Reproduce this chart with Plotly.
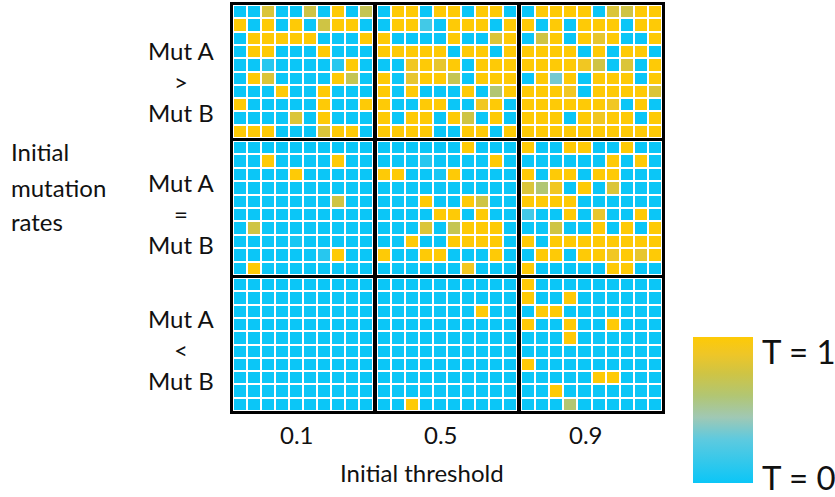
import plotly.graph_objects as go

# ---- data: 10x10 grids of final T values (row 0 = top row) ----
thresholds = ["0.1", "0.5", "0.9"]
rate_labels = ["Mut A<br>&gt;<br>Mut B", "Mut A<br>=<br>Mut B", "Mut A<br>&lt;<br>Mut B"]

gt_01 = [
    [0, 0, 0.8, 0, 0, 0.75, 0, 1, 0, 0.7],
    [1, 0, 1, 0, 1, 0, 0.75, 1, 1, 0],
    [0, 1, 1, 1, 1, 1, 0, 0, 0, 1],
    [0, 1, 1, 0, 0, 0, 1, 0, 0, 0],
    [0, 0, 0.1, 0, 0, 0, 0, 0.1, 1, 0],
    [0, 1, 0.8, 0, 0, 0, 0, 1, 0.7, 0],
    [0, 0, 0, 1, 0, 0, 1, 0, 0, 0],
    [1, 0, 0, 0, 0, 0, 1, 0, 0, 1],
    [0, 0, 0, 0, 0.8, 0, 1, 0, 0, 0],
    [1, 1, 1, 0, 0, 0, 0.8, 1, 1, 0],
]
gt_05 = [
    [0, 1, 1, 0, 1, 1, 0, 1, 1, 0],
    [0, 1, 1, 0.2, 0, 1, 1, 1, 0, 1],
    [1, 0, 0, 0, 0, 1, 0, 0, 0.8, 1],
    [1, 1, 1, 1, 1, 0, 1, 1, 0, 1],
    [0, 0, 0.9, 1, 0.85, 1, 0, 1, 1, 1],
    [1, 0, 0.85, 1, 1, 0.7, 0, 1, 1, 1],
    [1, 0, 1, 0, 0, 0, 1, 0, 0.6, 1],
    [1, 0, 0, 1, 1, 0, 0, 0.9, 1, 0],
    [1, 0, 1, 1, 0, 1, 0.75, 0, 1, 0],
    [1, 1, 1, 1, 0, 0, 1, 1, 0, 1],
]
gt_09 = [
    [0, 1, 1, 1, 1, 0, 0.8, 0.75, 1, 1],
    [1, 0, 1, 0, 1, 1, 1, 0, 1, 1],
    [0, 0.75, 1, 0, 1, 0.85, 1, 0, 0, 1],
    [1, 1, 1, 1, 0, 1, 0, 1, 1, 0],
    [1, 1, 1, 1, 0.9, 0.75, 0, 0.8, 0, 1],
    [0, 1, 0.35, 1, 0, 1, 1, 1, 0, 1],
    [1, 1, 1, 0.9, 0, 1, 1, 1, 1, 0.8],
    [1, 1, 1, 1, 1, 1, 0.9, 0, 1, 0],
    [1, 1, 1, 0, 1, 0.9, 1, 1, 0, 1],
    [1, 1, 1, 1, 1, 1, 1, 1, 1, 1],
]
eq_01 = [
    [0, 0, 0, 0, 0, 0, 0, 0, 0, 0],
    [0, 0, 1, 0, 0, 0, 0, 1, 0, 0],
    [0, 0, 0, 0, 1, 0, 0, 0, 0, 0],
    [0, 0, 0, 0, 0, 0, 0, 0, 0, 0],
    [0, 0, 0, 0, 0, 0, 0, 0.75, 0, 0],
    [0, 0, 0, 0, 0, 0, 0, 0, 0, 0],
    [0, 0.75, 0, 0, 0, 0, 0, 0, 0, 0],
    [0, 0, 0, 0, 0.05, 0, 0, 0, 0, 0],
    [0, 0, 0, 0, 0, 0, 0.1, 1, 0, 0],
    [0, 1, 0, 0, 0, 0, 0, 0, 0, 0],
]
eq_05 = [
    [0, 0, 0, 0, 0, 0, 1, 0, 0, 0],
    [0, 0, 0, 0.1, 0, 0, 0, 0, 1, 0],
    [1, 1, 0, 0, 0.05, 1, 0, 0, 0, 0],
    [0, 0, 0, 0, 0, 0, 0, 0, 0, 0],
    [0, 0, 0, 1, 0, 0, 1, 0.75, 0, 0],
    [0, 0, 0, 0, 1, 1, 0, 1, 0, 0],
    [0, 0, 0, 0.8, 0, 0.7, 1, 1, 1, 0],
    [0, 0, 1, 0, 0, 1, 1, 1, 1, 0],
    [1, 0, 0, 1, 1, 0, 0, 0, 1, 0],
    [0, 0, 0, 0, 0, 0, 0.9, 0, 0, 0],
]
eq_09 = [
    [1, 0, 0, 1, 1, 0, 0, 1, 0, 0],
    [0, 0, 0, 0, 0, 0, 1, 0, 1, 0],
    [1, 0, 1, 1, 0, 1, 1, 0, 0, 0],
    [0.8, 0.6, 0.9, 0, 1, 0, 0.8, 0, 0, 0],
    [1, 1, 1, 1, 0, 0, 0, 0, 0, 0],
    [0.2, 0, 0, 1, 0, 0.85, 0, 0, 1, 0],
    [0, 0, 0.75, 0, 0, 1, 0, 1, 0, 1],
    [1, 0, 1, 1, 1, 1, 1, 1, 1, 1],
    [0, 1, 1, 0, 1, 1, 0.9, 1, 0.85, 1],
    [1, 0, 0, 0, 0, 0, 1, 1, 0, 0],
]
lt_01 = [[0] * 10 for _ in range(10)]
lt_05 = [
    [0, 0, 0, 0, 0, 0, 0, 0, 0, 0],
    [0, 0, 0, 0, 0, 0, 0, 0, 0, 0],
    [0, 0, 0, 0, 0, 0, 0, 1, 0, 0],
    [0, 0, 0, 0, 0, 0, 0, 0, 0, 0],
    [0, 0, 0, 0, 0, 0, 0, 0, 0, 0],
    [0, 0, 0, 0, 0, 0, 0, 0, 0, 0],
    [0, 0, 0, 0, 0, 0, 0, 0, 0, 0],
    [0, 0, 0, 0, 0, 0, 0, 0, 0, 0],
    [0, 0, 0, 0, 0, 0, 0, 0, 0, 0],
    [0, 0, 1, 0, 0, 0, 0, 0, 0, 0],
]
lt_09 = [
    [1, 0, 0, 0, 0, 0, 0, 0, 0, 0],
    [1, 0, 0, 1, 0, 0, 0, 0, 0, 0],
    [0, 1, 1, 0, 0, 0, 0, 0, 0, 0],
    [1, 0, 0, 1, 0, 0, 1, 0, 0, 0],
    [0, 0, 0, 1, 0, 0, 0, 0, 0, 0],
    [0, 0, 0, 0, 0, 0, 0, 0, 0, 0],
    [1, 0, 0, 0, 0, 0, 0, 0, 0, 0],
    [0, 0, 0, 0, 0, 1, 1, 0, 0, 0],
    [0, 0, 1, 0, 0, 0, 0, 0, 0, 0],
    [0, 0, 0, 0.6, 0, 0, 0, 0, 0, 0],
]

grids = [[gt_01, gt_05, gt_09], [eq_01, eq_05, eq_09], [lt_01, lt_05, lt_09]]

# ---- geometry (pixels) ----
W, H = 835, 497
col_px = [(233, 373), (377, 517), (521, 662)]
row_px = [(5, 138), (141, 275), (278, 411)]

def fx(p):
    return p / W

def fy(p):
    return 1 - p / H

colorscale = [
    [0.0, "#0BC6F7"],
    [0.3, "#5ECADF"],
    [0.45, "#A0C8B4"],
    [0.6, "#B2C672"],
    [0.75, "#CFC444"],
    [0.88, "#EEC628"],
    [1.0, "#FECA06"],
]

fig = go.Figure()
layout = dict(
    width=W, height=H,
    margin=dict(l=0, r=0, t=0, b=0),
    paper_bgcolor="white", plot_bgcolor="white",
    showlegend=False,
    font=dict(family="Lato, sans-serif", color="#111111"),
    coloraxis=dict(
        cmin=0, cmax=1, colorscale=colorscale,
        colorbar=dict(
            x=fx(693), xanchor="left", xpad=0, ypad=0,
            y=fy(483), yanchor="bottom",
            len=(483 - 337) / H, lenmode="fraction",
            thickness=60, thicknessmode="pixels",
            outlinewidth=0, showticklabels=False, ticks="",
        ),
    ),
)

cells = list(range(10))
for r in range(3):
    for c in range(3):
        k = r * 3 + c + 1
        xa = "x" if k == 1 else f"x{k}"
        ya = "y" if k == 1 else f"y{k}"
        fig.add_trace(go.Heatmap(
            z=grids[r][c], x=cells, y=cells,
            coloraxis="coloraxis", xgap=2, ygap=2,
            xaxis=xa, yaxis=ya, hoverinfo="skip",
        ))
        axis_style = dict(showticklabels=False, showgrid=False, zeroline=False,
                          ticks="", showline=True, mirror=True,
                          linecolor="black", linewidth=3)
        x0, x1 = col_px[c]
        y0, y1 = row_px[r]
        layout["xaxis" if k == 1 else f"xaxis{k}"] = dict(
            domain=[fx(x0), fx(x1)], range=[-0.5, 9.5],
            anchor=ya, **axis_style)
        layout["yaxis" if k == 1 else f"yaxis{k}"] = dict(
            domain=[fy(y1), fy(y0)], range=[9.5, -0.5],
            anchor=xa, **axis_style)

fig.update_layout(**layout)

annotations = []

def label(text, x, y, size, xanchor="center"):
    annotations.append(dict(
        text=text, x=fx(x), y=fy(y), xref="paper", yref="paper",
        xanchor=xanchor, yanchor="middle", showarrow=False,
        font=dict(size=size, family="Lato, sans-serif", color="#111111"),
    ))

# row labels: Mut A (>, =, <) Mut B
row_mid_y = [80, 212, 347]
for r in range(3):
    label(rate_labels[r], 181, row_mid_y[r] + 2, 24)

# left axis title
for txt, yy in zip(["Initial", "mutation", "rates"], [150, 186, 220]):
    label(txt, 9, yy + 1, 24, xanchor="left")

# threshold tick labels and title
for c, t in enumerate(thresholds):
    cx = (col_px[c][0] + col_px[c][1]) / 2
    label(t, cx - 6, 434, 24)
label("Initial threshold", 422, 472, 24)

# colorbar end labels
label("T = 1", 760, 351, 33, xanchor="left")
label("T = 0", 760, 477, 33, xanchor="left")

fig.update_layout(annotations=annotations)
fig.write_html("out.html")
